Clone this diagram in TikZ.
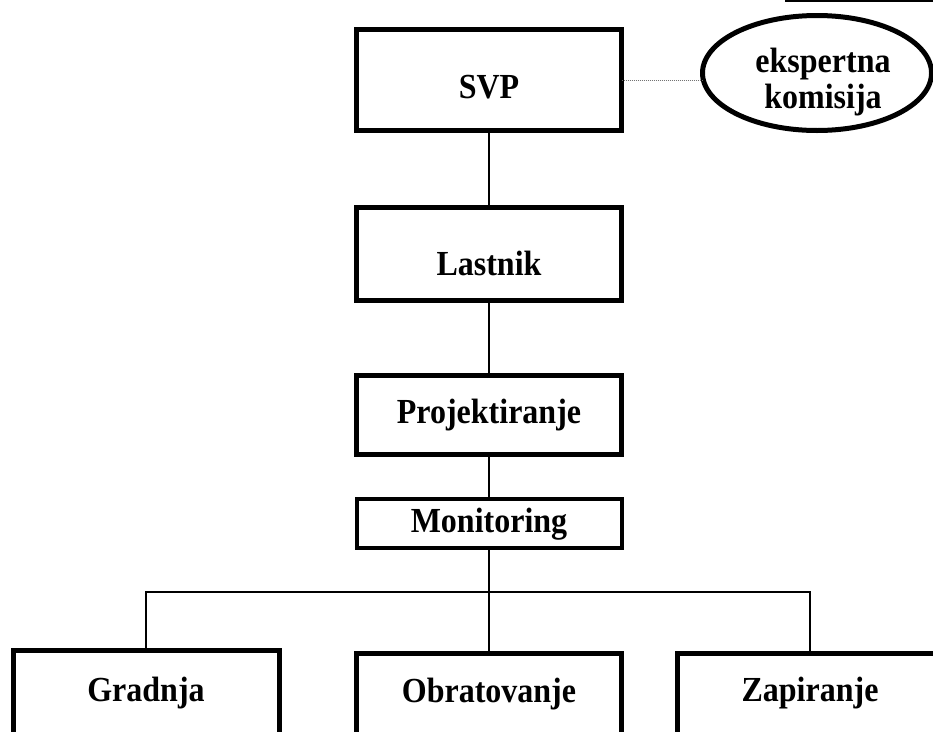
\documentclass[tikz,border=0pt]{standalone}
\usepackage{graphicx}
\usepackage{fontspec}
\setmainfont{Liberation Serif}
\usetikzlibrary{shapes.geometric}
\newcommand{\vstr}[1]{\scalebox{1}[1.1]{#1}}
\begin{document}
\begin{tikzpicture}[x=1pt,y=-1pt,
  box/.style={draw, line width=5pt, inner sep=0pt, outer sep=0pt,
    minimum width=265pt, anchor=north, font=\fontsize{32}{36}\selectfont\bfseries},
  conn/.style={line width=2pt},
  dotline/.style={draw=black!55, line width=1pt, dash pattern=on 1pt off 1pt},
]
\useasboundingbox (0,0) rectangle (933,731);
\clip (0,0) rectangle (933,731);
% header underline (cropped page header)
\draw[line width=1.5pt] (785,0.75) -- (933,0.75);

\node[box, text height=68.5pt, text depth=32.5pt] (svp) at (489,29.5) {\vstr{SVP}};
\node[box, text height=67.5pt, text depth=25.5pt] (last) at (489,207.5) {\vstr{Lastnik}};
\node[box, text height=47.5pt, text depth=31.5pt] (proj) at (489,375.5) {\vstr{Projektiranje}};
\node[box, line width=4pt, text height=33pt, text depth=16pt] (mon) at (489,499) {\vstr{Monitoring}};

\node[box, minimum width=266pt, text height=50.5pt, text depth=150pt] (grad) at (146,650.5) {\vstr{Gradnja}};
\node[box, text height=48.5pt, text depth=150pt] (obr) at (489,653.5) {\vstr{Obratovanje}};
\node[box, text height=48pt, text depth=150pt] (zap) at (810,653.5) {\vstr{Zapiranje}};

\node[draw, ellipse, line width=5pt, minimum width=229pt, minimum height=115pt,
  inner sep=0pt, outer sep=0pt, text height=30pt, text depth=32pt,
  font=\fontsize{32}{36}\selectfont\bfseries] (ek) at (817,73)
  {\hspace*{12pt}\begin{tabular}[t]{@{}c@{}}\vstr{ekspertna}\\\vstr{komisija}\end{tabular}};

\draw[dotline] (svp.east) -- (svp.east -| ek.west);
\draw[conn] (svp.south) -- (last.north);
\draw[conn] (last.south) -- (proj.north);
\draw[conn] (proj.south) -- (mon.north);
\draw[conn] (mon.south) -- (obr.north);
\coordinate (bus) at (489,592);
\draw[conn] (grad.north) |- (bus) -| (zap.north);
\end{tikzpicture}
\end{document}
